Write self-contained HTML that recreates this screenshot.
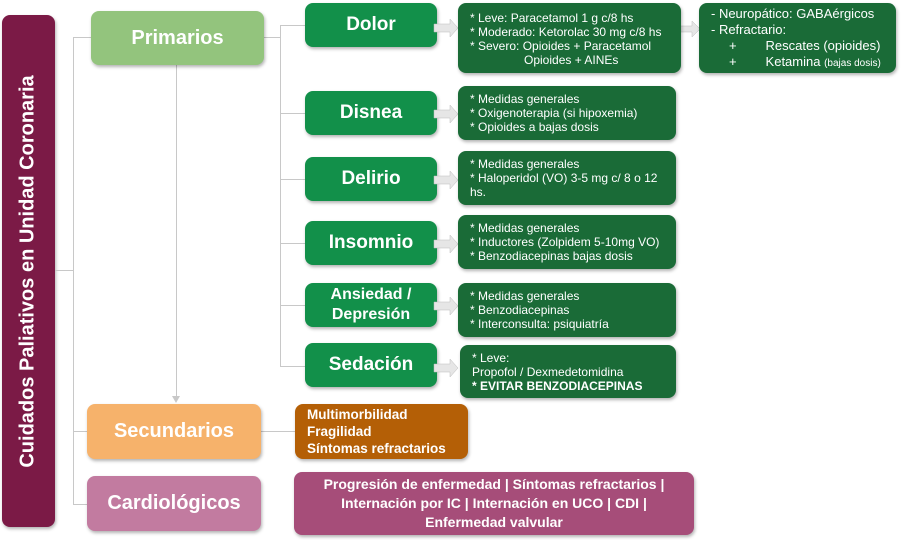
<!DOCTYPE html>
<html><head><meta charset="utf-8"><style>
body{margin:0;width:901px;height:540px;background:#fff;position:relative;overflow:hidden;font-family:"Liberation Sans",sans-serif}
.b{position:absolute;box-sizing:border-box;border-radius:8px;color:#fff;box-shadow:1px 2px 3px rgba(0,0,0,.3)}
.c{display:flex;align-items:center;justify-content:center;text-align:center;font-weight:bold}
.g{background:#12904a;font-size:19px}
.d{background:#1a6b37;font-size:12px;line-height:14px;padding:6px 0 0 12px}
.l{position:absolute;background:#c8c8c8}
</style></head><body>
<div class="b c" style="left:2px;top:15px;width:53px;height:512px;background:#7b1a46"><div style="transform:rotate(-90deg);white-space:nowrap;font-size:20px">Cuidados Paliativos en Unidad Coronaria</div></div>
<div class="l" style="left:55px;top:270px;width:18px;height:1px"></div>
<div class="l" style="left:73px;top:37px;width:1px;height:468px"></div>
<div class="l" style="left:73px;top:37px;width:18px;height:1px"></div>
<div class="l" style="left:73px;top:431px;width:14px;height:1px"></div>
<div class="l" style="left:73px;top:504px;width:14px;height:1px"></div>
<div class="l" style="left:176px;top:65px;width:1px;height:333px"></div>
<div style="position:absolute;left:172px;top:396px;border-left:4px solid transparent;border-right:4px solid transparent;border-top:7px solid #c8c8c8"></div>
<div class="l" style="left:264px;top:37px;width:16px;height:1px"></div>
<div class="l" style="left:280px;top:25px;width:1px;height:341px"></div>
<div class="l" style="left:280px;top:25px;width:25px;height:1px"></div>
<div class="l" style="left:280px;top:113px;width:25px;height:1px"></div>
<div class="l" style="left:280px;top:179px;width:25px;height:1px"></div>
<div class="l" style="left:280px;top:243px;width:25px;height:1px"></div>
<div class="l" style="left:280px;top:305px;width:25px;height:1px"></div>
<div class="l" style="left:280px;top:366px;width:25px;height:1px"></div>
<div class="l" style="left:261px;top:431px;width:34px;height:1px"></div>

<div class="b c" style="left:91px;top:11px;width:173px;height:54px;background:#93c47d;font-size:20px">Primarios</div>
<div class="b c" style="left:87px;top:404px;width:174px;height:55px;background:#f6b26b;font-size:20px">Secundarios</div>
<div class="b c" style="left:87px;top:476px;width:174px;height:55px;background:#c27ba0;font-size:20px">Cardiológicos</div>

<div class="b c g" style="left:305px;top:3px;width:132px;height:44px">Dolor</div>
<div class="b c g" style="left:305px;top:91px;width:132px;height:44px">Disnea</div>
<div class="b c g" style="left:305px;top:157px;width:132px;height:44px">Delirio</div>
<div class="b c g" style="left:305px;top:221px;width:132px;height:44px">Insomnio</div>
<div class="b c g" style="left:305px;top:283px;width:132px;height:44px;font-size:16px;line-height:20px">Ansiedad /<br>Depresión</div>
<div class="b c g" style="left:305px;top:343px;width:132px;height:44px">Sedación</div>

<svg style="position:absolute;left:0;top:0" width="901" height="540">
<g fill="#e6e6e6" stroke="#bbb" stroke-width=".5">
<path d="M434 24h16v-5l8 9-8 9v-5h-16z"/>
<path d="M434 110h16v-5l8 9-8 9v-5h-16z"/>
<path d="M434 176h16v-5l8 9-8 9v-5h-16z"/>
<path d="M434 240h16v-5l8 9-8 9v-5h-16z"/>
<path d="M434 302h16v-5l8 9-8 9v-5h-16z"/>
<path d="M434 364h16v-5l8 9-8 9v-5h-16z"/>
<path d="M678 26h14v-5l8 8-8 8v-5h-14z"/>
</g></svg>

<div class="b d" style="left:458px;top:3px;width:223px;height:70px;padding-top:8px">* Leve: Paracetamol 1 g c/8 hs<br>* Moderado: Ketorolac 30 mg c/8 hs<br>* Severo: Opioides + Paracetamol<br><span style="padding-left:54px">Opioides + AINEs</span></div>
<div class="b d" style="left:699px;top:3px;width:197px;height:70px;font-size:13px;line-height:16px;padding:3px 0 0 12px">- Neuropático: GABAérgicos<br>- Refractario:<br>&nbsp;&nbsp;&nbsp;&nbsp;&nbsp;+&nbsp;&nbsp;&nbsp;&nbsp;&nbsp;&nbsp;&nbsp;&nbsp;Rescates (opioides)<br>&nbsp;&nbsp;&nbsp;&nbsp;&nbsp;+&nbsp;&nbsp;&nbsp;&nbsp;&nbsp;&nbsp;&nbsp;&nbsp;Ketamina <span style="font-size:10px">(bajas dosis)</span></div>
<div class="b d" style="left:458px;top:86px;width:218px;height:54px">* Medidas generales<br>* Oxigenoterapia (si hipoxemia)<br>* Opioides a bajas dosis</div>
<div class="b d" style="left:458px;top:151px;width:218px;height:54px">* Medidas generales<br>* Haloperidol (VO) 3-5 mg c/ 8 o 12<br>hs.</div>
<div class="b d" style="left:458px;top:215px;width:218px;height:54px">* Medidas generales<br>* Inductores (Zolpidem 5-10mg VO)<br>* Benzodiacepinas bajas dosis</div>
<div class="b d" style="left:458px;top:283px;width:218px;height:54px">* Medidas generales<br>* Benzodiacepinas<br>* Interconsulta: psiquiatría</div>
<div class="b d" style="left:460px;top:345px;width:216px;height:53px;padding-left:12px">* Leve:<br>Propofol / Dexmedetomidina<br><b>* EVITAR BENZODIACEPINAS</b></div>

<div class="b" style="left:295px;top:404px;width:173px;height:55px;background:#b45f06;font-weight:bold;font-size:13.5px;line-height:17px;padding:2px 0 0 12px">Multimorbilidad<br>Fragilidad<br>Síntomas refractarios</div>
<div class="b c" style="left:294px;top:472px;width:400px;height:63px;background:#a64d79;font-size:14px;line-height:19px">Progresión de enfermedad | Síntomas refractarios |<br>Internación por IC | Internación en UCO | CDI |<br>Enfermedad valvular</div>
</body></html>
